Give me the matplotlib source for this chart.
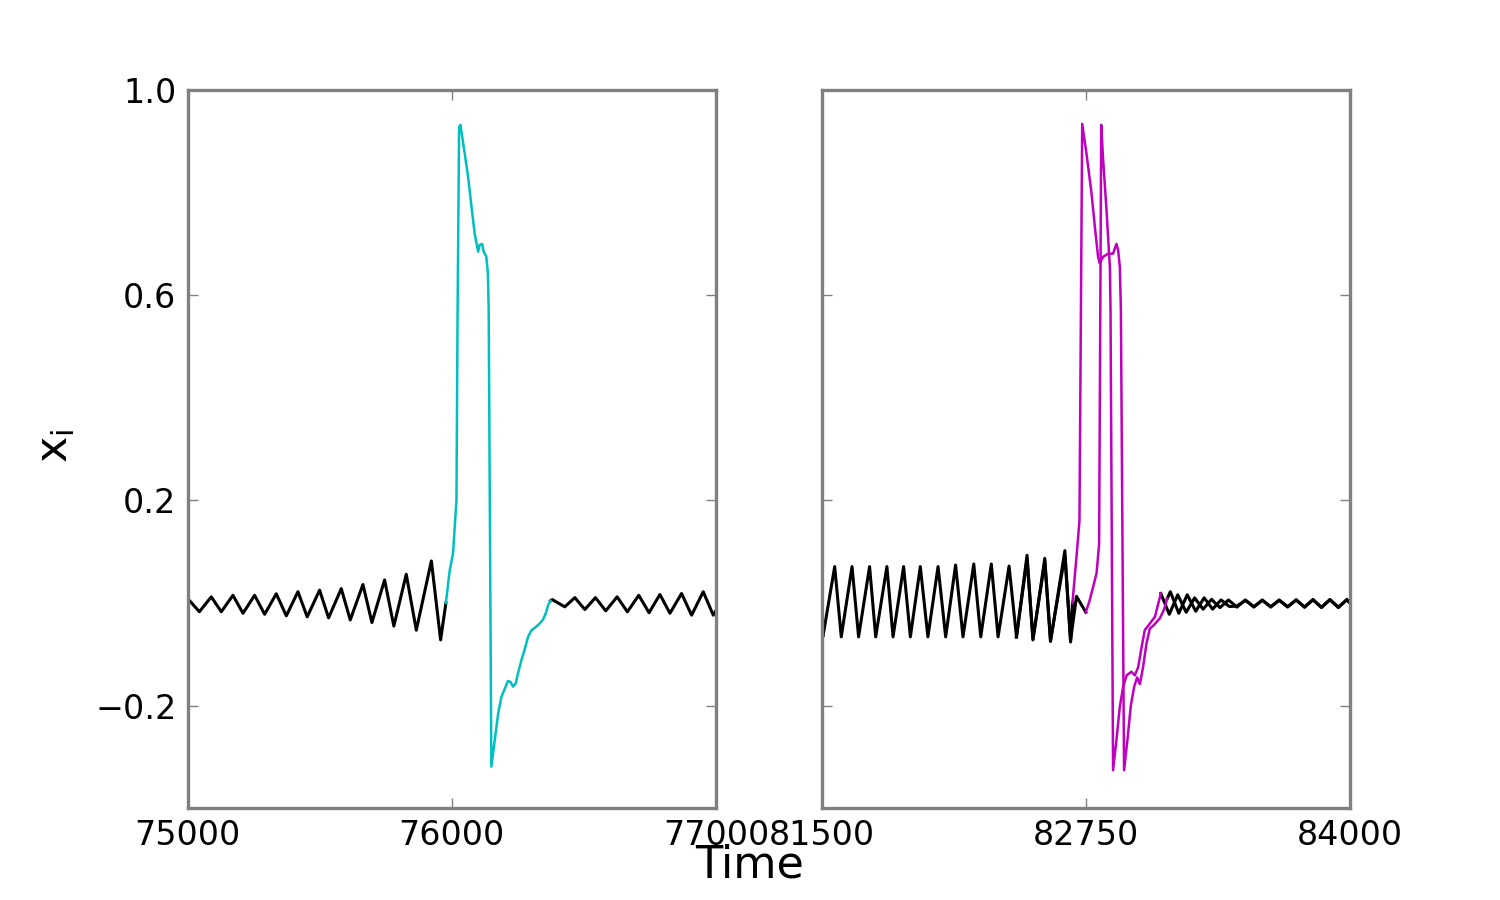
import matplotlib
matplotlib.use("Agg")
import matplotlib.pyplot as plt

# ---------------- data ----------------
# Left panel
left_pre_t = [75000, 75045, 75090, 75128, 75172, 75210, 75254, 75292, 75336, 75374,
              75418, 75453, 75500, 75534, 75582, 75616, 75664, 75698, 75746, 75781,
              75828, 75866, 75923, 75958, 75978]
left_pre_y = [0.009, -0.017, 0.012, -0.017, 0.015, -0.020, 0.015, -0.022, 0.018, -0.025,
              0.022, -0.027, 0.025, -0.029, 0.028, -0.033, 0.036, -0.038, 0.045, -0.045,
              0.056, -0.053, 0.082, -0.072, 0.000]

left_spike_t = [75978, 75992, 76005, 76018, 76022, 76028, 76033, 76049, 76062, 76075,
                76087, 76100, 76106, 76115, 76121, 76131, 76137, 76140, 76150, 76163,
                76176, 76188, 76201, 76213, 76223, 76232, 76242, 76251, 76264, 76277,
                76289, 76302, 76318, 76333, 76346, 76356, 76365, 76374]
left_spike_y = [0.000, 0.062, 0.097, 0.200, 0.548, 0.928, 0.932, 0.877, 0.831, 0.772,
                0.720, 0.685, 0.698, 0.700, 0.685, 0.675, 0.643, 0.571, -0.319, -0.267,
                -0.215, -0.183, -0.167, -0.152, -0.154, -0.163, -0.157, -0.137, -0.111, -0.089,
                -0.066, -0.053, -0.047, -0.040, -0.032, -0.020, -0.004, 0.0045]

left_post_t = [76374, 76381, 76428, 76466, 76504, 76544, 76583, 76626, 76665, 76708,
               76747, 76788, 76826, 76870, 76908, 76952, 76990, 77000]
left_post_y = [0.0045, 0.0066, -0.0075, 0.0105, -0.0127, 0.0105, -0.0153, 0.012, -0.0172, 0.015,
               -0.019, 0.0166, -0.020, 0.0185, -0.0237, 0.022, -0.0237, -0.015]

# Right panel: common oscillation before the events
right_pre_t = [81500, 81506, 81562, 81593, 81644, 81675, 81727, 81756, 81809, 81838,
               81888, 81920, 81967, 82003, 82051, 82087, 82134, 82169, 82220, 82253,
               82303, 82335, 82387, 82422]
right_pre_y = [-0.050, -0.066, 0.071, -0.066, 0.071, -0.066, 0.071, -0.066, 0.071, -0.066,
               0.071, -0.066, 0.071, -0.066, 0.071, -0.066, 0.074, -0.066, 0.076, -0.066,
               0.076, -0.066, 0.072, -0.066]

# unit A (first spike)
a_pre_t = [82422, 82472, 82500, 82556, 82583, 82651, 82678, 82687]
a_pre_y = [-0.066, 0.093, -0.072, 0.087, -0.075, 0.102, -0.076, 0.000]
a_spike_t = [82687, 82692, 82706, 82720, 82733, 82753, 82777, 82793, 82808, 82816,
             82832, 82856, 82879, 82895, 82903, 82911, 82916, 82931, 82947, 82963,
             82979, 82993, 83006, 83021, 83037, 83053, 83072, 83100, 83119, 83135]
a_spike_y = [0.000, 0.025, 0.090, 0.160, 0.934, 0.877, 0.799, 0.733, 0.675, 0.662,
             0.675, 0.681, 0.681, 0.700, 0.688, 0.655, 0.571, -0.326, -0.267, -0.200,
             -0.163, -0.145, -0.158, -0.125, -0.079, -0.050, -0.043, -0.030, -0.014, 0.0085]
a_post_t = [83135, 83150, 83190, 83230, 83270, 83310, 83350, 83390, 83430, 83465,
            83505, 83545, 83585, 83625, 83665, 83705, 83745, 83785, 83825, 83865,
            83905, 83945, 83985, 84000]
a_post_y = [0.0085, 0.022, -0.020, 0.016, -0.016, 0.010, -0.012, 0.006, -0.007, -0.006,
            0.005, -0.007, 0.005, -0.007, 0.005, -0.007, 0.0055, -0.0075, 0.006, -0.008,
            0.006, -0.008, 0.006, 0.000]

# unit B (second spike)
b_pre_t = [82422, 82472, 82500, 82556, 82583, 82651, 82678, 82706, 82750]
b_pre_y = [-0.066, 0.085, -0.070, 0.080, -0.073, 0.092, -0.073, 0.013, -0.018]
b_spike_t = [82750, 82766, 82782, 82801, 82813, 82823, 82832, 82848, 82860, 82864,
             82867, 82879, 82895, 82911, 82927, 82943, 82966, 82982, 82998, 83014,
             83029, 83053, 83077, 83093, 83105]
b_spike_y = [-0.018, 0.002, 0.027, 0.058, 0.115, 0.932, 0.864, 0.766, 0.681, 0.655,
             0.571, -0.326, -0.267, -0.202, -0.163, -0.141, -0.134, -0.141, -0.125, -0.086,
             -0.053, -0.040, -0.027, -0.001, 0.0185]
b_post_t = [83105, 83145, 83185, 83225, 83265, 83305, 83345, 83385, 83425, 83465,
            83505, 83545, 83585, 83625, 83665, 83705, 83745, 83785, 83825, 83865,
            83905, 83945, 83985, 84000]
b_post_y = [0.0185, -0.022, 0.016, -0.018, 0.010, -0.012, 0.007, -0.009, 0.006, -0.008,
            0.006, -0.008, 0.006, -0.008, 0.006, -0.008, 0.0065, -0.0085, 0.007, -0.009,
            0.007, -0.009, 0.007, 0.000]

left_xticks = [75000, 76000, 77000]
right_xticks = [81500, 82750, 84000]
yticks = [-0.2, 0.2, 0.6, 1.0]
ytick_labels = ["\u22120.2", "0.2", "0.6", "1.0"]

# ---------------- figure ----------------
plt.rcParams['font.family'] = ['DejaVu Sans']
fig, (ax1, ax2) = plt.subplots(1, 2, figsize=(15, 9), dpi=100, sharey=True)
fig.subplots_adjust(left=0.125, right=0.9, bottom=0.102, top=0.9, wspace=0.2)

K_LW = 2.2
C_LW = 1.8
CYAN = '#00BFBF'
MAG = '#BF00BF'

ax1.plot(left_pre_t, left_pre_y, color='k', lw=K_LW)
ax1.plot(left_post_t, left_post_y, color='k', lw=K_LW)
ax1.plot(left_spike_t, left_spike_y, color=CYAN, lw=C_LW)

ax2.plot(right_pre_t, right_pre_y, color='k', lw=K_LW)
ax2.plot(a_pre_t, a_pre_y, color='k', lw=K_LW)
ax2.plot(b_pre_t, b_pre_y, color='k', lw=K_LW)
ax2.plot(a_post_t, a_post_y, color='k', lw=K_LW)
ax2.plot(b_post_t, b_post_y, color='k', lw=K_LW)
ax2.plot(a_spike_t, a_spike_y, color=MAG, lw=C_LW)
ax2.plot(b_spike_t, b_spike_y, color=MAG, lw=C_LW)

ax1.set_xlim(75000, 77000)
ax2.set_xlim(81500, 84000)
ax1.set_ylim(-0.4, 1.0)
ax1.set_xticks(left_xticks)
ax1.set_xticklabels([str(v) for v in left_xticks])
ax2.set_xticks(right_xticks)
ax2.set_xticklabels([str(v) for v in right_xticks])
ax1.set_yticks(yticks)
ax1.set_yticklabels(ytick_labels)

for ax in (ax1, ax2):
    for sp in ax.spines.values():
        sp.set_color('#808080')
        sp.set_linewidth(2.4)
    ax.tick_params(direction='in', length=7, width=1, color='#808080',
                   top=True, right=True, labelsize=24, pad=8)
ax2.tick_params(labelleft=False)

fig.text(0.5, 0.039, 'Time', ha='center', va='center', fontsize=32)
fig.text(0.037, 0.505, r'$\mathrm{x_i}$', ha='center', va='center',
         rotation=90, fontsize=32)

fig.savefig('out.png', dpi=100)
